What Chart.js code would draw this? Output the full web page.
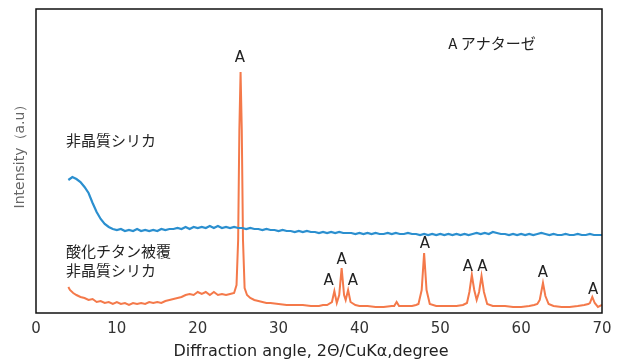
<!DOCTYPE html>
<html>
<head>
<meta charset="utf-8">
<script src="https://cdn.jsdelivr.net/npm/chart.js@4/dist/chart.umd.min.js"></script>
<style>
  html, body { margin: 0; padding: 0; background: #fff; }
  #wrap { width: 622px; height: 363px; }
</style>
</head>
<body>
<div id="wrap"><canvas id="xrdChart"></canvas></div>
<script>
// 2θ values and intensities (arbitrary units)
const silicaX = [4, 4.5, 5, 5.5, 6, 6.5, 7, 7.5, 8, 8.5, 9, 9.5, 10, 10.5, 11, 11.5, 12, 12.5, 13, 13.5,
    14, 14.5, 15, 15.5, 16, 16.5, 17, 17.5, 18, 18.5, 19, 19.5, 20, 20.5, 21, 21.5, 22, 22.5, 23, 23.5,
    24, 24.5, 25, 25.5, 26, 26.5, 27, 27.5, 28, 28.5, 29, 29.5, 30, 30.5, 31, 31.5, 32, 32.5, 33, 33.5,
    34, 34.5, 35, 35.5, 36, 36.5, 37, 37.5, 38, 38.5, 39, 39.5, 40, 40.5, 41, 41.5, 42, 42.5, 43, 43.5,
    44, 44.5, 45, 45.5, 46, 46.5, 47, 47.5, 48, 48.5, 49, 49.5, 50, 50.5, 51, 51.5, 52, 52.5, 53, 53.5,
    54, 54.5, 55, 55.5, 56, 56.5, 57, 57.5, 58, 58.5, 59, 59.5, 60, 60.5, 61, 61.5, 62, 62.5, 63, 63.5,
    64, 64.5, 65, 65.5, 66, 66.5, 67, 67.5, 68, 68.5, 69, 69.5, 70];
const silicaY = [133, 136, 134, 131, 126, 120, 110, 101, 94, 89, 86, 84, 83, 84, 82, 83, 82, 84, 82, 83,
    82, 83, 82, 84, 83, 84, 84, 85, 84, 86, 84, 86, 85, 86, 85, 87, 85, 87, 85, 86,
    85, 86, 85, 85, 84, 85, 84, 84, 83, 84, 83, 83, 82, 83, 82, 82, 81, 82, 81, 82,
    81, 81, 80, 81, 80, 81, 80, 81, 80, 80, 80, 79, 80, 79, 80, 79, 80, 79, 79, 80,
    79, 80, 79, 79, 80, 79, 79, 78, 79, 78, 79, 78, 79, 78, 79, 78, 79, 78, 79, 78,
    79, 80, 79, 80, 79, 81, 80, 79, 79, 78, 79, 78, 79, 78, 79, 78, 79, 80, 79, 78,
    79, 78, 78, 79, 78, 78, 79, 78, 78, 79, 78, 78, 78];

const titaniaX = [4, 4.2, 4.6, 5, 5.5, 6, 6.5, 7, 7.5, 8, 8.5, 9, 9.5, 10, 10.5, 11, 11.5, 12, 12.5, 13,
    13.5, 14, 14.5, 15, 15.5, 16, 16.5, 17, 17.5, 18, 18.5, 19, 19.5, 20, 20.5, 21, 21.5, 22, 22.5, 23,
    23.5, 24, 24.5, 24.8, 25, 25.15, 25.3, 25.45, 25.6, 25.8, 26.1, 26.5, 27, 27.5, 28, 28.5, 29, 30, 31, 32,
    33, 34, 35, 35.5, 36, 36.6, 36.9, 37.2, 37.5, 37.8, 38.1, 38.3, 38.6, 38.9, 39.5, 40, 41, 42, 43, 44,
    44.3, 44.6, 44.9, 45.5, 46, 46.5, 47, 47.3, 47.7, 48, 48.3, 48.7, 49.5, 50, 51, 52, 52.8, 53.3, 53.6, 53.9,
    54.2, 54.5, 54.8, 55.1, 55.4, 55.8, 56.5, 57, 58, 59, 60, 61, 61.6, 62, 62.3, 62.7, 63, 63.4, 64, 65,
    66, 67, 67.8, 68.3, 68.5, 68.8, 69.1, 69.5, 70];
const titaniaY = [26, 23, 20, 18, 16, 15, 13, 14, 11, 12, 10, 11, 9, 11, 9, 10, 8, 10, 9, 10,
    9, 11, 10, 11, 10, 12, 13, 14, 15, 16, 18, 19, 18, 21, 19, 21, 18, 21, 18, 19,
    18, 19, 20, 28, 73, 183, 241, 183, 73, 25, 18, 15, 13, 12, 11, 10, 10, 9, 8, 8,
    8, 7, 7, 8, 8, 11, 22, 10, 18, 45, 18, 13, 23, 11, 8, 7, 7, 6, 6, 7,
    7, 11, 7, 7, 7, 7, 8, 9, 23, 60, 23, 9, 7, 7, 7, 7, 8, 10, 21, 38,
    23, 13, 21, 37, 21, 9, 7, 7, 7, 6, 6, 7, 8, 9, 13, 30, 17, 9, 7, 6,
    6, 7, 8, 9, 10, 16, 10, 6, 8];

// "A" marks above the anatase peaks
const peakLabelX = [25.2, 36.2, 37.8, 39.2, 48.1, 53.4, 55.2, 62.7, 68.9];
const peakLabelY = [255, 32, 53, 32, 69, 46, 46, 40, 23];

const textLabels = [
    { text: 'A アナターゼ', x: 51.0, y: 270 },
    { text: '非晶質シリカ', x: 3.7, y: 173 },
    { text: '酸化チタン被覆', x: 3.7, y: 62 },
    { text: '非晶質シリカ', x: 3.7, y: 43 }
];

const xTitle = 'Diffraction angle, 2Θ/CuKα,degree';
const yTitle = 'Intensity（a.u）';

const FONT = '"Noto Sans CJK JP", "Noto Sans", sans-serif';
const LATIN = '"DejaVu Sans", sans-serif';

function toPoints(xs, ys) {
    return xs.map((x, i) => ({ x: x, y: ys[i] }));
}

// frame, axis titles and text drawn over the chart
const overlayPlugin = {
    id: 'overlay',
    afterDatasetsDraw(chart) {
        const { ctx, chartArea, scales } = chart;
        ctx.save();
        ctx.strokeStyle = '#111';
        ctx.lineWidth = 1.5;
        ctx.strokeRect(chartArea.left, chartArea.top, chartArea.right - chartArea.left, chartArea.bottom - chartArea.top);

        ctx.fillStyle = '#222';
        ctx.font = '15px ' + LATIN;
        ctx.textBaseline = 'middle';
        ctx.textAlign = 'center';
        peakLabelX.forEach((x, i) => {
            ctx.fillText('A', scales.x.getPixelForValue(x), scales.y.getPixelForValue(peakLabelY[i]));
        });

        // axis titles
        ctx.font = '16px ' + LATIN;
        ctx.fillText(xTitle, chart.width / 2, 352);
        ctx.save();
        ctx.translate(20, 153);
        ctx.rotate(-Math.PI / 2);
        ctx.fillStyle = '#666';
        ctx.font = '14px ' + LATIN;
        ctx.fillText(yTitle, 0, 0);
        ctx.restore();

        ctx.font = '15px ' + FONT;
        ctx.textAlign = 'left';
        textLabels.forEach(l => {
            ctx.fillText(l.text, scales.x.getPixelForValue(l.x), scales.y.getPixelForValue(l.y));
        });
        ctx.restore();
    }
};

new Chart(document.getElementById('xrdChart'), {
    type: 'line',
    data: {
        datasets: [{
            label: '非晶質シリカ',
            data: toPoints(silicaX, silicaY),
            borderColor: '#2b8fcf',
            borderWidth: 2.2,
            pointRadius: 0,
            tension: 0
        }, {
            label: '酸化チタン被覆 非晶質シリカ',
            data: toPoints(titaniaX, titaniaY),
            borderColor: '#f4794a',
            borderWidth: 2,
            pointRadius: 0,
            tension: 0
        }]
    },
    options: {
        responsive: true,
        maintainAspectRatio: false,
        animation: false,
        layout: { padding: { top: 9, right: 20, left: 0, bottom: 0 } },
        plugins: {
            legend: { display: false },
            tooltip: { enabled: false }
        },
        scales: {
            x: {
                type: 'linear',
                min: 0,
                max: 70,
                grid: { display: false, drawTicks: false },
                border: { display: false },
                ticks: { stepSize: 10, padding: 7, color: '#333', font: { family: LATIN, size: 15 } },
                afterFit(scale) { scale.height = 50; }
            },
            y: {
                min: 0,
                max: 304,
                grid: { display: false, drawTicks: false },
                border: { display: false },
                ticks: { display: false },
                afterFit(scale) { scale.width = 36; }
            }
        }
    },
    plugins: [overlayPlugin]
});
</script>
</body>
</html>
